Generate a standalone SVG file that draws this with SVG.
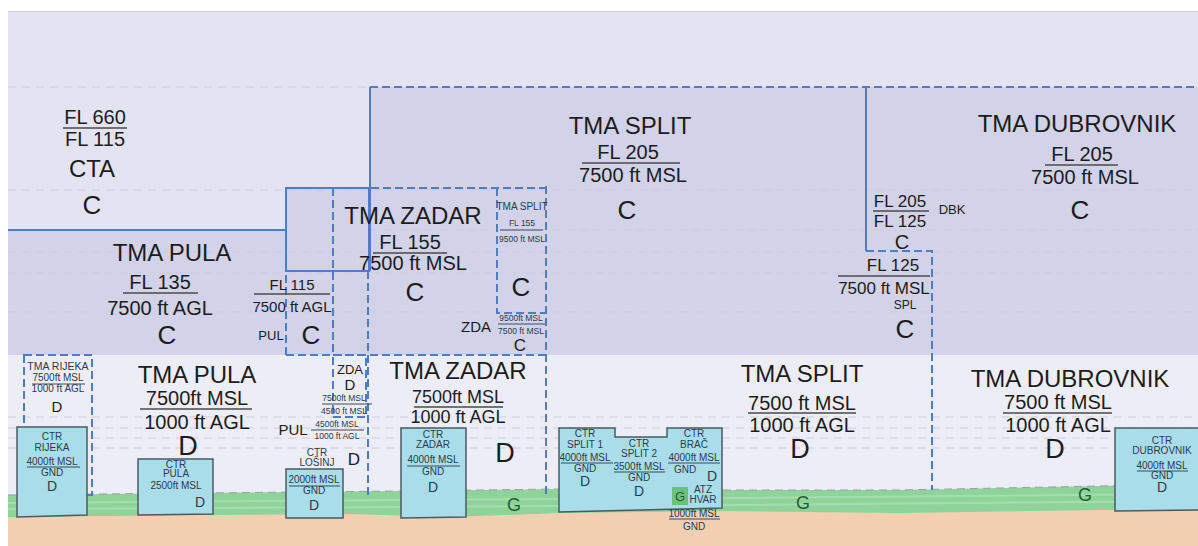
<svg xmlns="http://www.w3.org/2000/svg" width="1198" height="546" viewBox="0 0 1198 546">
<style>
text{font-family:"Liberation Sans",Arial,sans-serif;fill:#1c1c1c;text-anchor:middle}
.h{font-size:24px}.m{font-size:20px}.m17{font-size:17px}.s15{font-size:15px}.s13{font-size:13px}.s12{font-size:12px}
.cls{font-size:26px}.cls2{font-size:27px}
.t{font-size:10px;fill:#2b3b52}.t8{font-size:8.5px;fill:#2b3b52}
.ctrD{font-size:14px;fill:#2b3b52}
.g{font-size:18px;fill:#1e5e2e}
.bd{stroke:#4f7cc8;stroke-width:2;stroke-dasharray:8 4;fill:none}
.bs{stroke:#4f7cc8;stroke-width:2;fill:none}
.grid{stroke:#cdcddc;stroke-width:1;stroke-dasharray:8 6;fill:none}
.fr{stroke:#4a4a4a;stroke-width:1.5}
.frs{stroke:#3a4a5a;stroke-width:1}
.ctr{fill:#a9dde9;stroke:#4b5a60;stroke-width:1.5}
</style>
<rect x="0" y="0" width="1198" height="546" fill="#ffffff"/>
<rect x="8" y="11" width="1190" height="535" fill="#e3e3f1"/>
<line x1="8" y1="11.5" x2="1198" y2="11.5" stroke="#cfcfe3" stroke-width="1"/>
<polygon points="8,230 286,230 286,188 370,188 370,87 1198,87 1198,355 8,355" fill="#d2d2e8"/>
<rect x="8" y="355" width="1190" height="150" fill="#ededf7"/>
<g id="grid">
<line class="grid" x1="8" y1="87" x2="370" y2="87"/>
<line class="grid" x1="8" y1="190" x2="1198" y2="190"/>
<line class="grid" x1="370" y1="230" x2="1198" y2="230"/>
<line class="grid" x1="8" y1="252" x2="1198" y2="252"/>
<line class="grid" x1="8" y1="273" x2="1198" y2="273"/>
<line class="grid" x1="8" y1="312" x2="1198" y2="312"/>
<line class="grid" x1="8" y1="417" x2="1198" y2="417"/>
<line class="grid" x1="8" y1="428" x2="1198" y2="428"/>
<line class="grid" x1="8" y1="438" x2="1198" y2="438"/>
<line class="grid" x1="8" y1="448" x2="1198" y2="448"/>
</g>
<g id="ground">
<path d="M8,495 L200,493 L400,491 L560,489 L720,490 L900,490 L1100,486 L1198,484 L1198,546 L8,546 Z" fill="#8dd39a"/>
<path d="M8,503 L400,500 L720,498 L1198,494" stroke="#a6ddb0" stroke-width="2" fill="none"/>
<path d="M8,509 L400,507 L720,505 L1198,501" stroke="#a6ddb0" stroke-width="2" fill="none"/>
<path d="M8,495 L200,493 L400,491 L560,489 L720,490 L900,490 L1100,486 L1198,484" stroke="#9aa0a8" stroke-width="1" stroke-dasharray="8 5" fill="none"/>
<path d="M8,517 L200,515 L350,514 L450,517 L560,513 L720,511 L900,513 L1100,510 L1198,509 L1198,546 L8,546 Z" fill="#f3cfb1"/>
</g>
<g id="connectors">
<line class="bd" x1="370" y1="87" x2="1198" y2="87"/>
<line class="bs" x1="370" y1="87" x2="370" y2="271"/>
<line class="bd" x1="368" y1="271" x2="368" y2="498"/>
<line class="bs" x1="866" y1="87" x2="866" y2="251"/>
<polyline class="bd" points="866,251 932,251 932,490"/>
<line class="bs" x1="8" y1="230" x2="286" y2="230"/>
<polyline class="bd" points="286,355 286,188 546,188"/>
<rect class="bs" x="286" y="188" width="83" height="83"/>
<line class="bd" x1="333" y1="188" x2="333" y2="355"/>
<polyline class="bd" points="497,188 497,313 546,313"/>
<line class="bd" x1="546" y1="186" x2="546" y2="495"/>
<line class="bd" x1="286" y1="355" x2="546" y2="355"/>
<rect class="bd" x="333" y="355" width="33" height="62"/>
<rect class="bd" x="24" y="355" width="68" height="140"/>
</g>
<g id="cta">
<text class="m" x="95" y="124">FL 660</text>
<line class="fr" x1="63" y1="128" x2="127" y2="128"/>
<text class="m" x="95" y="146">FL 115</text>
<text class="h" x="92" y="177">CTA</text>
<text class="cls" x="92" y="214">C</text>
</g>
<g id="tma-pula-upper">
<text class="h" x="172" y="261">TMA PULA</text>
<text class="m" x="160" y="289">FL 135</text>
<line class="fr" x1="123" y1="293" x2="198" y2="293"/>
<text class="m" x="160" y="315">7500 ft AGL</text>
<text class="cls" x="167" y="344">C</text>
</g>
<g id="pul-c">
<text class="s15" x="292" y="290">FL 115</text>
<line class="fr" x1="254" y1="294" x2="330" y2="294"/>
<text class="s15" x="292" y="312">7500 ft AGL</text>
<text class="s13" x="271" y="340">PUL</text>
<text class="cls" x="311" y="344">C</text>
</g>
<g id="tma-zadar-upper">
<text class="h" x="413" y="224">TMA ZADAR</text>
<text class="m" x="410" y="249">FL 155</text>
<line class="fr" x1="373" y1="253" x2="447" y2="253"/>
<text class="m" x="413" y="270">7500 ft MSL</text>
<text class="cls" x="415" y="301">C</text>
</g>
<g id="tma-split-small">
<text class="t" x="522" y="210">TMA SPLIT</text>
<text class="t8" x="522" y="226">FL 155</text>
<line class="frs" x1="500" y1="230" x2="543" y2="230"/>
<text class="t8" x="522" y="242">9500 ft MSL</text>
<text class="cls" x="521" y="296">C</text>
</g>
<g id="zda-c">
<text class="s15" x="476" y="332">ZDA</text>
<text class="t8" x="521" y="321">9500ft MSL</text>
<line class="frs" x1="498" y1="324" x2="545" y2="324"/>
<text class="t8" x="521" y="334">7500 ft MSL</text>
<text class="m17" x="520" y="351">C</text>
</g>
<g id="tma-split-upper">
<text class="h" x="630" y="134">TMA SPLIT</text>
<text class="m" x="628" y="159">FL 205</text>
<line class="fr" x1="582" y1="163" x2="680" y2="163"/>
<text class="m" x="633" y="182">7500 ft MSL</text>
<text class="cls" x="627" y="219">C</text>
</g>
<g id="dbk">
<text class="m17" x="900" y="207">FL 205</text>
<line class="fr" x1="873" y1="211" x2="929" y2="211"/>
<text class="m17" x="900" y="227">FL 125</text>
<text class="m" x="902" y="249">C</text>
<text class="s13" x="952" y="214">DBK</text>
</g>
<g id="spl">
<text class="m17" x="893" y="271">FL 125</text>
<line class="fr" x1="838" y1="276" x2="930" y2="276"/>
<text class="m17" x="884" y="294">7500 ft MSL</text>
<text class="s12" x="905" y="309">SPL</text>
<text class="cls" x="905" y="338">C</text>
</g>
<g id="tma-dubrovnik-upper">
<text class="h" x="1077" y="132">TMA DUBROVNIK</text>
<text class="m" x="1082" y="161">FL 205</text>
<line class="fr" x1="1045" y1="165" x2="1118" y2="165"/>
<text class="m" x="1085" y="184">7500 ft MSL</text>
<text class="cls" x="1080" y="219">C</text>
</g>
<g id="tma-rijeka">
<text class="t" x="58" y="370" style="font-size:10.5px">TMA RIJEKA</text>
<text class="t" x="58" y="381">7500ft MSL</text>
<line class="frs" x1="32" y1="384" x2="85" y2="384"/>
<text class="t" x="58" y="392">1000 ft AGL</text>
<text class="s15" x="57" y="412">D</text>
</g>
<g id="ctr-rijeka">
<polygon class="ctr" points="17,427 87,427 87,515 17,517"/>
<text class="t" x="52" y="440">CTR</text>
<text class="t" x="52" y="451">RIJEKA</text>
<text class="t" x="52" y="465">4000ft MSL</text>
<line class="frs" x1="27" y1="467" x2="80" y2="467"/>
<text class="t" x="52" y="476">GND</text>
<text class="ctrD" x="52" y="491">D</text>
</g>
<g id="tma-pula-lower">
<text class="h" x="197" y="383">TMA PULA</text>
<text class="m" x="197" y="405">7500ft MSL</text>
<line class="fr" x1="140" y1="409" x2="252" y2="409"/>
<text class="m" x="197" y="429">1000 ft AGL</text>
<text class="cls2" x="188" y="455">D</text>
</g>
<g id="ctr-pula">
<polygon class="ctr" points="138,459 213,459 213,514 138,515"/>
<text class="t" x="176" y="468">CTR</text>
<text class="t" x="176" y="477">PULA</text>
<text class="t" x="176" y="489">2500ft MSL</text>
<text class="ctrD" x="200" y="507">D</text>
</g>
<g id="zda-d">
<text class="s13" x="350" y="374">ZDA</text>
<text class="s15" x="350" y="390">D</text>
<text class="t8" x="344" y="401">7500ft MSL</text>
<line class="frs" x1="322" y1="404" x2="372" y2="404"/>
<text class="t8" x="344" y="414">4500 ft MSL</text>
</g>
<g id="pul-d">
<text class="s15" x="293" y="435">PUL</text>
<text class="t8" x="337" y="427">4500ft MSL</text>
<line class="frs" x1="311" y1="430" x2="364" y2="430"/>
<text class="t8" x="337" y="439">1000 ft AGL</text>
<text class="m17" x="354" y="465">D</text>
</g>
<g id="ctr-losinj">
<text class="t" x="317" y="456">CTR</text>
<text class="t" x="317" y="466">LOŠINJ</text>
<rect class="ctr" x="286" y="469" width="57" height="49"/>
<text class="t" x="314" y="483">2000ft MSL</text>
<line class="frs" x1="289" y1="486" x2="340" y2="486"/>
<text class="t" x="314" y="494">GND</text>
<text class="ctrD" x="314" y="510">D</text>
</g>
<g id="tma-zadar-lower">
<text class="h" x="458" y="379">TMA ZADAR</text>
<text class="m" x="458" y="403" style="font-size:18px">7500ft MSL</text>
<line class="fr" x1="414" y1="407" x2="503" y2="407"/>
<text class="m" x="458" y="423" style="font-size:18px">1000 ft AGL</text>
<text class="cls2" x="505" y="462">D</text>
</g>
<g id="ctr-zadar">
<polygon class="ctr" points="401,428 466,428 466,517 401,518"/>
<text class="t" x="433" y="438">CTR</text>
<text class="t" x="433" y="448">ZADAR</text>
<text class="t" x="433" y="463">4000ft MSL</text>
<line class="frs" x1="407" y1="466" x2="460" y2="466"/>
<text class="t" x="433" y="475">GND</text>
<text class="ctrD" x="433" y="492">D</text>
</g>
<text class="g" x="514" y="511">G</text>
<g id="ctr-split">
<polygon class="ctr" points="559,428 615,428 615,437 667,437 667,428 722,428 722,508 559,512"/>
<text class="t" x="585" y="437">CTR</text>
<text class="t" x="585" y="448">SPLIT 1</text>
<text class="t" x="585" y="461">4000ft MSL</text>
<line class="frs" x1="561" y1="463" x2="613" y2="463"/>
<text class="t" x="585" y="472">GND</text>
<text class="ctrD" x="585" y="486">D</text>
<text class="t" x="639" y="447">CTR</text>
<text class="t" x="639" y="457">SPLIT 2</text>
<text class="t" x="639" y="470">3500ft MSL</text>
<line class="frs" x1="614" y1="472" x2="665" y2="472"/>
<text class="t" x="639" y="481">GND</text>
<text class="ctrD" x="639" y="496">D</text>
<text class="t" x="694" y="437">CTR</text>
<text class="t" x="694" y="448">BRAČ</text>
<text class="t" x="694" y="461">4000ft MSL</text>
<line class="frs" x1="668" y1="463" x2="720" y2="463"/>
<text class="t" x="685" y="473">GND</text>
<text class="ctrD" x="712" y="481">D</text>
</g>
<g id="atz-hvar">
<rect x="672" y="487" width="16" height="18" fill="#6cc07c"/>
<text class="s13" x="680" y="501" style="fill:#1e5e2e">G</text>
<text class="t" x="703" y="493">ATZ</text>
<text class="t" x="703" y="503">HVAR</text>
<text class="t" x="694" y="517">1000ft MSL</text>
<line class="frs" x1="669" y1="519" x2="720" y2="519"/>
<text class="t" x="694" y="530">GND</text>
</g>
<g id="tma-split-lower">
<text class="h" x="802" y="382">TMA SPLIT</text>
<text class="m" x="802" y="410">7500 ft MSL</text>
<line class="fr" x1="748" y1="413" x2="856" y2="413"/>
<text class="m" x="802" y="432">1000 ft AGL</text>
<text class="cls2" x="800" y="458">D</text>
</g>
<text class="g" x="803" y="509">G</text>
<g id="tma-dubrovnik-lower">
<text class="h" x="1070" y="387">TMA DUBROVNIK</text>
<text class="m" x="1058" y="409">7500 ft MSL</text>
<line class="fr" x1="1003" y1="413" x2="1112" y2="413"/>
<text class="m" x="1058" y="432">1000 ft AGL</text>
<text class="cls2" x="1055" y="458">D</text>
</g>
<text class="g" x="1085" y="501">G</text>
<g id="ctr-dubrovnik">
<polygon class="ctr" points="1115,428 1199,428 1199,510 1115,511"/>
<text class="t" x="1162" y="444">CTR</text>
<text class="t" x="1162" y="454">DUBROVNIK</text>
<text class="t" x="1162" y="469">4000ft MSL</text>
<line class="frs" x1="1137" y1="471" x2="1188" y2="471"/>
<text class="t" x="1162" y="479">GND</text>
<text class="ctrD" x="1162" y="492">D</text>
</g>
</svg>
